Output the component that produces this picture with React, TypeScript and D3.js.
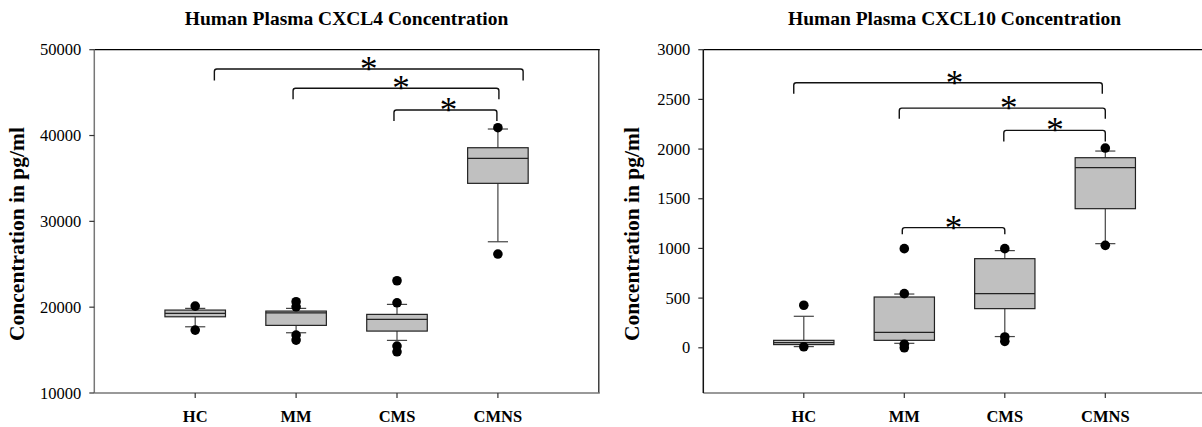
import React from "react";
import * as d3 from "d3";

// ---------- data ----------
const categories = ["HC", "MM", "CMS", "CMNS"];

// CXCL4 (pg/ml)
const cxcl4WhiskerLow = [17716, 17020, 16130, 27622];
const cxcl4Q1 = [18881, 17879, 17214, 34429];
const cxcl4Median = [19278, 19347, 18578, 37343];
const cxcl4Q3 = [19662, 19545, 19160, 38578];
const cxcl4WhiskerHigh = [19860, 19860, 20326, 40758];
const cxcl4Outliers = [
  [20128, 17331],
  [20630, 20047, 16748, 16166],
  [23078, 20513, 15466, 14802],
  [40909, 26189],
];
const cxcl4Ticks = [10000, 20000, 30000, 40000, 50000];
const cxcl4Domain = [10000, 50000];
// brackets: [fromPos, toPos, lineValue, legEndValue, starPos]
const cxcl4Brackets = [
  [1.19, 4.25, 47751, 46420, 2.72],
  [1.97, 4.01, 45501, 44219, 3.04],
  [2.97, 3.99, 42972, 41690, 3.51],
];

// CXCL10 (pg/ml)
const cxcl10WhiskerLow = [12, 45, 113, 1048];
const cxcl10Q1 = [32, 75, 394, 1400];
const cxcl10Median = [52, 156, 545, 1813];
const cxcl10Q3 = [75, 511, 897, 1913];
const cxcl10WhiskerHigh = [317, 541, 978, 1980];
const cxcl10Outliers = [
  [428, 10],
  [998, 545, 35, 0],
  [998, 109, 65],
  [2010, 1031],
];
const cxcl10Ticks = [0, 500, 1000, 1500, 2000, 2500, 3000];
const cxcl10Domain = [-455, 3000];
const cxcl10Brackets = [
  [0.9, 3.97, 2668, 2557, 2.5],
  [1.95, 4.0, 2412, 2306, 3.04],
  [2.99, 4.0, 2188, 2077, 3.5],
  [1.98, 3.0, 1209, 1142, 2.49],
];

const SERIF = "'Times New Roman', 'Liberation Serif', serif";

type PanelProps = {
  title: string;
  x0: number;
  x1: number;
  yDomain: number[];
  yTicks: number[];
  wLow: number[];
  q1: number[];
  med: number[];
  q3: number[];
  wHigh: number[];
  outliers: number[][];
  brackets: number[][];
  yTitleX: number;
  leftAxisColor: string;
  showRight: boolean;
};

function Panel(p: PanelProps) {
  const top = 49.7;
  const bottom = 393;
  const x = d3.scaleLinear().domain([0, 5]).range([p.x0, p.x1]);
  const y = d3.scaleLinear().domain(p.yDomain).range([bottom, top]);
  const unit = x(1) - x(0);
  const boxW = 0.6 * unit;
  const capW = 0.2 * unit;
  const cx = (i: number) => x(i + 1);
  const midX = (p.x0 + p.x1) / 2;

  const bracketPath = (b: number[]) => {
    const xa = x(b[0]);
    const xb = x(b[1]);
    const yl = y(b[2]);
    const ye = y(b[3]);
    const r = 2.5;
    return `M${xa},${ye} L${xa},${yl + r} Q${xa},${yl} ${xa + r},${yl} L${xb - r},${yl} Q${xb},${yl} ${xb},${yl + r} L${xb},${ye}`;
  };

  return (
    <g>
      <text
        x={midX}
        y={25}
        textAnchor="middle"
        fontFamily={SERIF}
        fontWeight="bold"
        fontSize={19.5}
      >
        {p.title}
      </text>
      <text
        transform={`translate(${p.yTitleX},${234}) rotate(-90)`}
        textAnchor="middle"
        fontFamily={SERIF}
        fontWeight="bold"
        fontSize={21.5}
      >
        Concentration in pg/ml
      </text>

      {/* frame */}
      <line x1={p.x0} x2={p.x1 + 1} y1={top} y2={top} stroke="#000" strokeWidth={1.3} />
      {p.showRight && (
        <line x1={p.x1} x2={p.x1} y1={top} y2={bottom} stroke="#222" strokeWidth={1.3} />
      )}
      <line x1={p.x0} x2={p.x1 + 1} y1={bottom} y2={bottom} stroke="#777" strokeWidth={1.6} />
      <line x1={p.x0} x2={p.x0} y1={top} y2={bottom} stroke={p.leftAxisColor} strokeWidth={1.5} />

      {/* y ticks */}
      {p.yTicks.map((t) => (
        <g key={t}>
          <line x1={p.x0 - 5} x2={p.x0} y1={y(t)} y2={y(t)} stroke="#333" strokeWidth={1.2} />
          <text
            x={p.x0 - 13}
            y={y(t)}
            textAnchor="end"
            dominantBaseline="central"
            fontFamily={SERIF}
            fontSize={16.5}
          >
            {t}
          </text>
        </g>
      ))}

      {/* x ticks */}
      {categories.map((c, i) => (
        <g key={c}>
          <line x1={cx(i)} x2={cx(i)} y1={bottom} y2={bottom + 5} stroke="#333" strokeWidth={1.2} />
          <text
            x={cx(i)}
            y={422}
            textAnchor="middle"
            fontFamily={SERIF}
            fontWeight="bold"
            fontSize={16.5}
          >
            {c}
          </text>
        </g>
      ))}

      {/* boxes */}
      {categories.map((c, i) => (
        <g key={"b" + c}>
          <line x1={cx(i)} x2={cx(i)} y1={y(p.wHigh[i])} y2={y(p.q3[i])} stroke="#444" strokeWidth={1.2} />
          <line x1={cx(i)} x2={cx(i)} y1={y(p.q1[i])} y2={y(p.wLow[i])} stroke="#444" strokeWidth={1.2} />
          <line x1={cx(i) - capW / 2} x2={cx(i) + capW / 2} y1={y(p.wHigh[i])} y2={y(p.wHigh[i])} stroke="#444" strokeWidth={1.2} />
          <line x1={cx(i) - capW / 2} x2={cx(i) + capW / 2} y1={y(p.wLow[i])} y2={y(p.wLow[i])} stroke="#444" strokeWidth={1.2} />
          <rect
            x={cx(i) - boxW / 2}
            y={y(p.q3[i])}
            width={boxW}
            height={y(p.q1[i]) - y(p.q3[i])}
            fill="#c0c0c0"
            stroke="#222"
            strokeWidth={1.2}
          />
          <line x1={cx(i) - boxW / 2} x2={cx(i) + boxW / 2} y1={y(p.med[i])} y2={y(p.med[i])} stroke="#222" strokeWidth={1.2} />
          {p.outliers[i].map((v, k) => (
            <circle key={k} cx={cx(i)} cy={y(v)} r={4.8} fill="#000" />
          ))}
        </g>
      ))}

      {/* significance brackets */}
      {p.brackets.map((b, k) => (
        <g key={"br" + k}>
          <path d={bracketPath(b)} fill="none" stroke="#111" strokeWidth={1.4} />
          <text
            x={x(b[4])}
            y={y(b[2]) + 12}
            textAnchor="middle"
            fontFamily={SERIF}
            fontSize={35}
          >
            *
          </text>
        </g>
      ))}
    </g>
  );
}

export default function App() {
  return (
    <svg
      width={1202}
      height={427}
      style={{ position: "absolute", left: 0, top: 0, background: "#fff" }}
    >
      <rect x={0} y={0} width={1202} height={427} fill="#fff" />
      <Panel
        title="Human Plasma CXCL4 Concentration"
        x0={94.3}
        x1={598.8}
        yDomain={cxcl4Domain}
        yTicks={cxcl4Ticks}
        wLow={cxcl4WhiskerLow}
        q1={cxcl4Q1}
        med={cxcl4Median}
        q3={cxcl4Q3}
        wHigh={cxcl4WhiskerHigh}
        outliers={cxcl4Outliers}
        brackets={cxcl4Brackets}
        yTitleX={24}
        leftAxisColor="#777"
        showRight={true}
      />
      <Panel
        title="Human Plasma CXCL10 Concentration"
        x0={703.3}
        x1={1205.8}
        yDomain={cxcl10Domain}
        yTicks={cxcl10Ticks}
        wLow={cxcl10WhiskerLow}
        q1={cxcl10Q1}
        med={cxcl10Median}
        q3={cxcl10Q3}
        wHigh={cxcl10WhiskerHigh}
        outliers={cxcl10Outliers}
        brackets={cxcl10Brackets}
        yTitleX={639}
        leftAxisColor="#111"
        showRight={false}
      />
    </svg>
  );
}
